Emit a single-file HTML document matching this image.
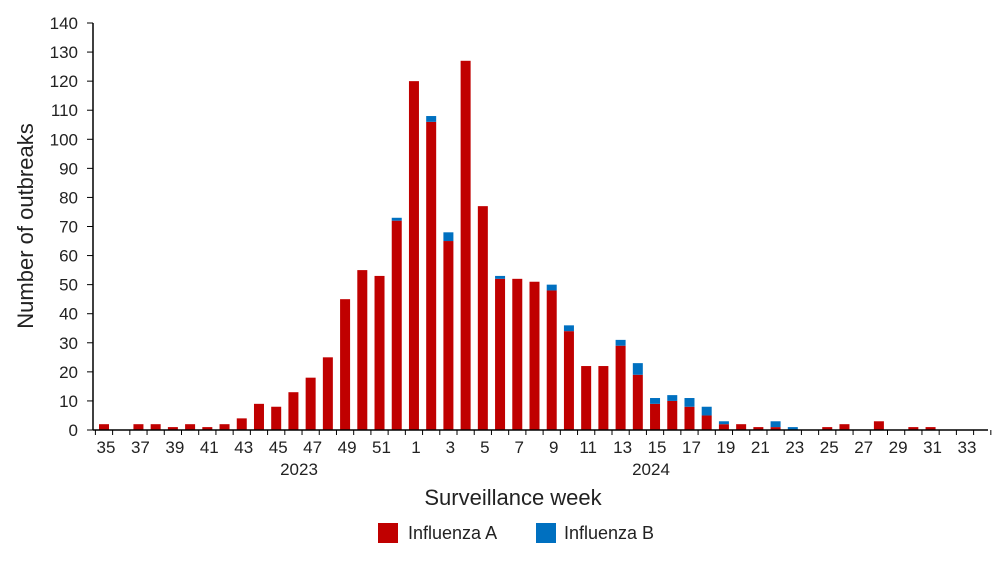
<!DOCTYPE html>
<html><head><meta charset="utf-8"><style>
body{margin:0;background:#fff;font-family:"Liberation Sans",sans-serif}
svg text{font-family:"Liberation Sans",sans-serif;fill:#222}
</style></head><body>
<svg id="c" width="1001" height="558"></svg>
<script>
const weeks=[35,36,37,38,39,40,41,42,43,44,45,46,47,48,49,50,51,52,1,2,3,4,5,6,7,8,9,10,11,12,13,14,15,16,17,18,19,20,21,22,23,24,25,26,27,28,29,30,31,32,33,34];
const fluA=[2,0,2,2,1,2,1,2,4,9,8,13,18,25,45,55,53,72,120,106,65,127,77,52,52,51,48,34,22,22,29,19,9,10,8,5,2,2,1,1,0,0,1,2,0,3,0,1,1,0,0,0];
const fluB=[0,0,0,0,0,0,0,0,0,0,0,0,0,0,0,0,0,1,0,2,3,0,0,1,0,0,2,2,0,0,2,4,2,2,3,3,1,0,0,2,1,0,0,0,0,0,0,0,0,0,0,0];
const yTicks=[0,10,20,30,40,50,60,70,80,90,100,110,120,130,140];
const NS="http://www.w3.org/2000/svg",svg=document.getElementById('c');
const x0=93,x1=988,y0=430,yTop=23,ymax=140;
const step=17.22;
const X=i=>104+step*i;
const Y=v=>y0-(y0-yTop)*v/ymax;
function mk(t,a,txt){const e=document.createElementNS(NS,t);for(const k in a)e.setAttribute(k,a[k]);if(txt!==undefined)e.textContent=txt;svg.appendChild(e);return e;}
fluA.forEach((v,i)=>{
 const a=mk('rect',{x:X(i)-5,y:Y(v),width:10,height:y0-Y(v),fill:'#c00000'});
 
 
 if(fluB[i]>0){const b=mk('rect',{x:X(i)-5,y:Y(v+fluB[i]),width:10,height:Y(v)-Y(v+fluB[i]),fill:'#0070c0'});
 
 }
});
const ya=mk('line',{x1:x0,y1:yTop,x2:x0,y2:y0,stroke:'#000','stroke-width':1.5});

const xa=mk('line',{x1:x0,y1:y0,x2:x1,y2:y0,stroke:'#000','stroke-width':1.5});

yTicks.forEach(v=>{
 mk('line',{x1:x0-6,y1:Y(v),x2:x0,y2:Y(v),stroke:'#000','stroke-width':1});
 const t=mk('text',{x:78,y:Y(v)+6,'text-anchor':'end','font-size':17},v);
 
});
for(let i=0;i<=weeks.length;i++)mk('line',{x1:X(i)-step/2,y1:y0,x2:X(i)-step/2,y2:y0+5,stroke:'#000','stroke-width':1});
weeks.forEach((w,i)=>{if(w%2===1){const t=mk('text',{x:X(i)+2,y:453,'text-anchor':'middle','font-size':17},w);
 }});
let t=mk('text',{x:299,y:475,'text-anchor':'middle','font-size':17},'2023');

t=mk('text',{x:651,y:475,'text-anchor':'middle','font-size':17},'2024');

t=mk('text',{x:513,y:505,'text-anchor':'middle','font-size':22},'Surveillance week');

t=mk('text',{x:0,y:0,'text-anchor':'middle','font-size':22,transform:'translate(33,226) rotate(-90)'},'Number of outbreaks');

let r=mk('rect',{x:378,y:523,width:20,height:20,fill:'#c00000'});

t=mk('text',{x:408,y:539,'font-size':18},'Influenza A');

r=mk('rect',{x:536,y:523,width:20,height:20,fill:'#0070c0'});

t=mk('text',{x:564,y:539,'font-size':18},'Influenza B');

</script>
</body></html>
